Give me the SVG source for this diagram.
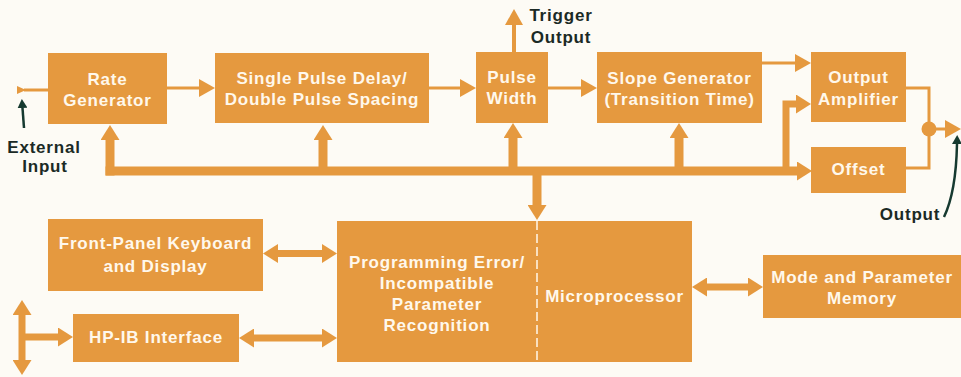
<svg xmlns="http://www.w3.org/2000/svg" width="961" height="377" viewBox="0 0 961 377">
<style>
.box{fill:#E5993F}
.t{font-family:"Liberation Sans",Arial,sans-serif;font-weight:bold;font-size:17px;letter-spacing:0.8px;fill:#FFF8EC;text-anchor:middle}
.lb{font-family:"Liberation Sans",Arial,sans-serif;font-weight:bold;font-size:17px;letter-spacing:0.8px;fill:#1B2A25;text-anchor:middle}
.sig{fill:none;stroke:#E5993F;stroke-width:3}
.bus{fill:none;stroke:#E5993F;stroke-width:9}
.dbl{fill:none;stroke:#E5993F;stroke-width:7}
.dk{fill:none;stroke:#163A30;stroke-width:2.5}
</style>
<defs>
<marker id="hs" markerUnits="userSpaceOnUse" markerWidth="16" markerHeight="18" refX="0" refY="9" orient="auto-start-reverse"><path d="M0,0 L16,9 L0,18 z" fill="#E5993F"/></marker>
<marker id="hb" markerUnits="userSpaceOnUse" markerWidth="15" markerHeight="19" refX="0" refY="9.5" orient="auto-start-reverse"><path d="M0,0 L15,9.5 L0,19 z" fill="#E5993F"/></marker>
<marker id="hd" markerUnits="userSpaceOnUse" markerWidth="15" markerHeight="19" refX="0" refY="9.5" orient="auto-start-reverse"><path d="M0,0 L15,9.5 L0,19 z" fill="#E5993F"/></marker>
<marker id="hk" markerUnits="userSpaceOnUse" markerWidth="9" markerHeight="10" refX="0" refY="5" orient="auto"><path d="M0,0 L9,5 L0,10 z" fill="#163A30"/></marker>
</defs>
<rect width="961" height="377" fill="#FDFBF5"/>

<g id="connectors">
<path class="sig" d="M24,90 H48"/>
<polygon points="17,86 26,90 17,94" fill="#E5993F"/>
<path class="sig" d="M167,88 H199" marker-end="url(#hs)"/>
<path class="sig" d="M429,88 H460" marker-end="url(#hs)"/>
<path class="sig" d="M548,88 H581" marker-end="url(#hs)"/>
<path class="sig" d="M762,63 H795" marker-end="url(#hs)"/>
<path class="sig" style="stroke-width:4" d="M514,52 V25" marker-end="url(#hs)"/>
<path class="sig" d="M906,88 H929 V122"/>
<path class="sig" d="M906,168 H929 V136"/>
<circle cx="929" cy="129" r="7.5" fill="#E5993F"/>
<path class="sig" d="M936,129 H945" marker-end="url(#hs)"/>
<path class="bus" d="M110,175.5 V140" marker-end="url(#hb)"/>
<path class="bus" d="M105.5,171 H797" marker-end="url(#hb)"/>
<path class="bus" d="M323,171 V140" marker-end="url(#hb)"/>
<path class="bus" d="M513,171 V138" marker-end="url(#hb)"/>
<path class="bus" d="M679,171 V138" marker-end="url(#hb)"/>
<path class="bus" d="M537,171 V205" marker-end="url(#hb)"/>
<path class="bus" style="stroke-width:7" d="M786,171 V104 H796" marker-end="url(#hb)"/>
<path class="dbl" d="M278,253.5 H322" marker-start="url(#hd)" marker-end="url(#hd)"/>
<path class="dbl" d="M254,338 H322" marker-start="url(#hd)" marker-end="url(#hd)"/>
<path class="dbl" d="M707,287 H748" marker-start="url(#hd)" marker-end="url(#hd)"/>
<path class="dbl" d="M22,315 V360" marker-start="url(#hd)" marker-end="url(#hd)"/>
<path class="dbl" d="M22,337 H58" marker-end="url(#hd)"/>
<path class="dk" d="M24,128 L22.5,108" marker-end="url(#hk)"/>
<path class="dk" d="M944,217 Q956,192 957,144" marker-end="url(#hk)"/>
</g>

<g id="rate"><rect class="box" x="48" y="53" width="119" height="71"/><text class="t" x="107.5" y="85">Rate</text><text class="t" x="107.5" y="106">Generator</text></g>
<g id="delay"><rect class="box" x="215" y="53" width="214" height="70"/><text class="t" x="322" y="84">Single Pulse Delay/</text><text class="t" x="322" y="105">Double Pulse Spacing</text></g>
<g id="width"><rect class="box" x="476" y="52" width="72" height="71"/><text class="t" x="512" y="83">Pulse</text><text class="t" x="512" y="104">Width</text></g>
<g id="slope"><rect class="box" x="597" y="52" width="165" height="71"/><text class="t" x="679.5" y="84">Slope Generator</text><text class="t" x="679.5" y="105">(Transition Time)</text></g>
<g id="amp"><rect class="box" x="811" y="52" width="95" height="70"/><text class="t" x="858.5" y="83">Output</text><text class="t" x="858.5" y="105">Amplifier</text></g>
<g id="offset"><rect class="box" x="811" y="147" width="95" height="46"/><text class="t" x="858.5" y="175">Offset</text></g>
<g id="frontpanel"><rect class="box" x="48" y="219" width="215" height="72"/><text class="t" x="155.5" y="249">Front-Panel Keyboard</text><text class="t" x="155.5" y="272">and Display</text></g>
<g id="hpib"><rect class="box" x="73" y="314" width="166" height="48"/><text class="t" x="156" y="343">HP-IB Interface</text></g>
<g id="processor"><rect class="box" x="337" y="221" width="355" height="141"/>
<line x1="537" y1="221" x2="537" y2="362" stroke="#FFF8EC" stroke-width="1.5" stroke-dasharray="9 4"/>
<text class="t" x="437" y="268">Programming Error/</text><text class="t" x="437" y="289">Incompatible</text><text class="t" x="437" y="310">Parameter</text><text class="t" x="437" y="331">Recognition</text>
<text class="t" x="614.5" y="302">Microprocessor</text></g>
<g id="memory"><rect class="box" x="763" y="255" width="198" height="63"/><text class="t" x="862" y="283">Mode and Parameter</text><text class="t" x="862" y="304">Memory</text></g>

<g id="labels">
<text class="lb" x="44" y="153">External</text><text class="lb" x="45" y="172">Input</text>
<text class="lb" x="561" y="21">Trigger</text><text class="lb" x="561" y="43">Output</text>
<text class="lb" x="910" y="220">Output</text>
</g>
</svg>
